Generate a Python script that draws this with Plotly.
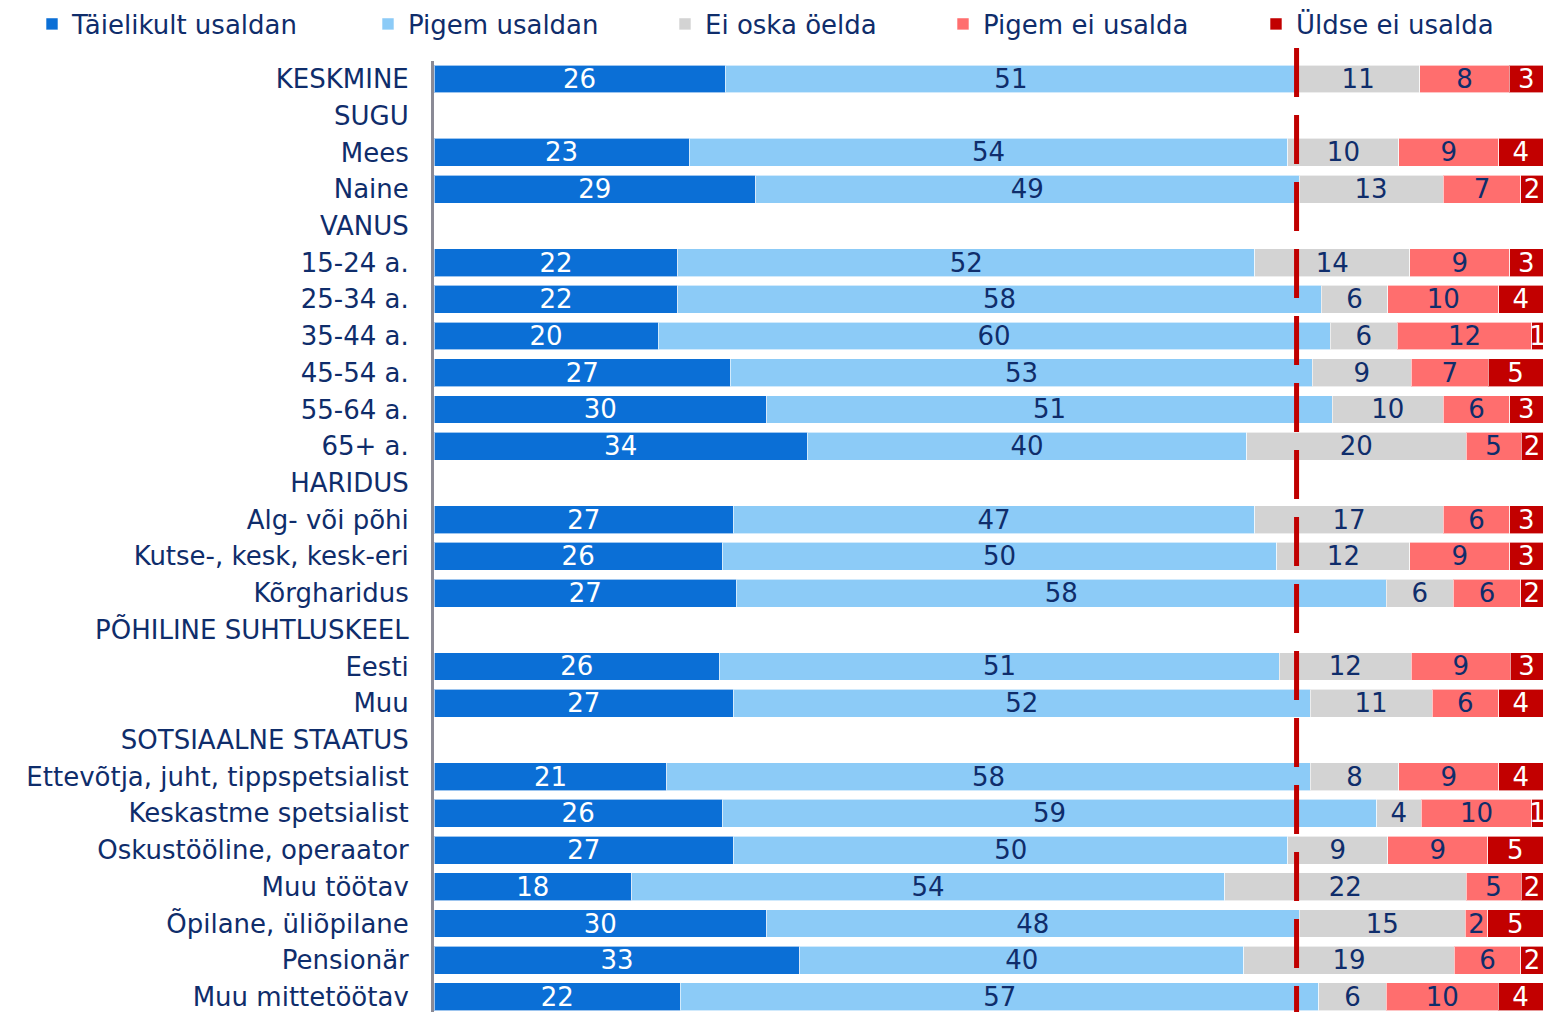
import plotly.graph_objects as go

categories = [
    "KESKMINE", "SUGU", "Mees", "Naine", "VANUS",
    "15-24 a.", "25-34 a.", "35-44 a.", "45-54 a.", "55-64 a.", "65+ a.",
    "HARIDUS", "Alg- või põhi", "Kutse-, kesk, kesk-eri", "Kõrgharidus",
    "PÕHILINE SUHTLUSKEEL", "Eesti", "Muu",
    "SOTSIAALNE STAATUS", "Ettevõtja, juht, tippspetsialist", "Keskastme spetsialist",
    "Oskustööline, operaator", "Muu töötav", "Õpilane, üliõpilane", "Pensionär",
    "Muu mittetöötav",
]

taielikult = [26, None, 23, 29, None, 22, 22, 20, 27, 30, 34, None, 27, 26, 27, None, 26, 27, None, 21, 26, 27, 18, 30, 33, 22]
pigem = [51, None, 54, 49, None, 52, 58, 60, 53, 51, 40, None, 47, 50, 58, None, 51, 52, None, 58, 59, 50, 54, 48, 40, 57]
ei_oska = [11, None, 10, 13, None, 14, 6, 6, 9, 10, 20, None, 17, 12, 6, None, 12, 11, None, 8, 4, 9, 22, 15, 19, 6]
pigem_ei = [8, None, 9, 7, None, 9, 10, 12, 7, 6, 5, None, 6, 9, 6, None, 9, 6, None, 9, 10, 9, 5, 2, 6, 10]
uldse_ei = [3, None, 4, 2, None, 3, 4, 1, 5, 3, 2, None, 3, 3, 2, None, 3, 4, None, 4, 1, 5, 2, 5, 2, 4]

series_names = ["Täielikult usaldan", "Pigem usaldan", "Ei oska öelda", "Pigem ei usalda", "Üldse ei usalda"]
series_values = [taielikult, pigem, ei_oska, pigem_ei, uldse_ei]
series_colors = ["#0B6FD6", "#8CCBF7", "#D3D3D3", "#FF6E6E", "#C20000"]
text_colors = ["white", "#0F2D6B", "#0F2D6B", "#0F2D6B", "white"]

NAVY = "#0F2D6B"
FONT = "DejaVu Sans"

# average trust (KESKMINE) as percent of its total
avg_row = [s[0] for s in series_values]
avg_trust = (avg_row[0] + avg_row[1]) / sum(avg_row) * 100

fig = go.Figure()
legend_text_x = [72, 408, 705, 983, 1296]
for i, (name, vals, col, tcol) in enumerate(zip(series_names, series_values, series_colors, text_colors)):
    lg = "legend" if i == 0 else f"legend{i+1}"
    fig.add_trace(go.Bar(
        y=categories, x=vals, name=name, orientation="h",
        marker=dict(color=col, line=dict(color="rgba(255,255,255,0.6)", width=1)),
        text=[("" if v is None else str(v)) for v in vals],
        texttemplate="%{text}",
        textposition="inside", insidetextanchor="middle", textangle=0,
        insidetextfont=dict(color=tcol, size=26, family=FONT),
        width=0.76, legend=lg, hoverinfo="skip",
    ))

legend_common = dict(
    orientation="h", xref="container", yref="container",
    yanchor="middle", xanchor="left", y=1 - 24 / 1012,
    font=dict(size=26, family=FONT, color=NAVY),
    bgcolor="rgba(0,0,0,0)", borderwidth=0, itemwidth=30,
)
layout_legends = {}
for i, tx in enumerate(legend_text_x):
    key = "legend" if i == 0 else f"legend{i+1}"
    layout_legends[key] = dict(legend_common, x=(tx - 40) / 1545)

fig.update_layout(
    width=1545, height=1012,
    barmode="stack", barnorm="percent",
    plot_bgcolor="white", paper_bgcolor="white",
    margin=dict(l=434, r=2, t=61, b=0),
    uniformtext=dict(minsize=26, mode="show"),
    font=dict(family=FONT, size=26, color=NAVY),
    xaxis=dict(range=[0, 100], showticklabels=False, showgrid=False, zeroline=False, showline=False, fixedrange=True),
    yaxis=dict(type="category", categoryorder="array", categoryarray=categories,
               range=[25.41, -0.49], showgrid=False, zeroline=False,
               showline=True, linecolor="#8A8A96", linewidth=3,
               ticks="", ticklabelstandoff=17,
               tickfont=dict(size=26, family=FONT, color=NAVY)),
    showlegend=True,
    **layout_legends,
)

fig.add_shape(type="line", xref="x", yref="paper",
              x0=avg_trust, x1=avg_trust, y0=1.0137, y1=0,
              line=dict(color="#C00000", width=5, dash="49px,18px"), layer="above")

fig.write_html(
    "out.html",
    config={"displayModeBar": False},
    post_script="document.body.style.margin='0';document.body.style.overflow='hidden';",
)
